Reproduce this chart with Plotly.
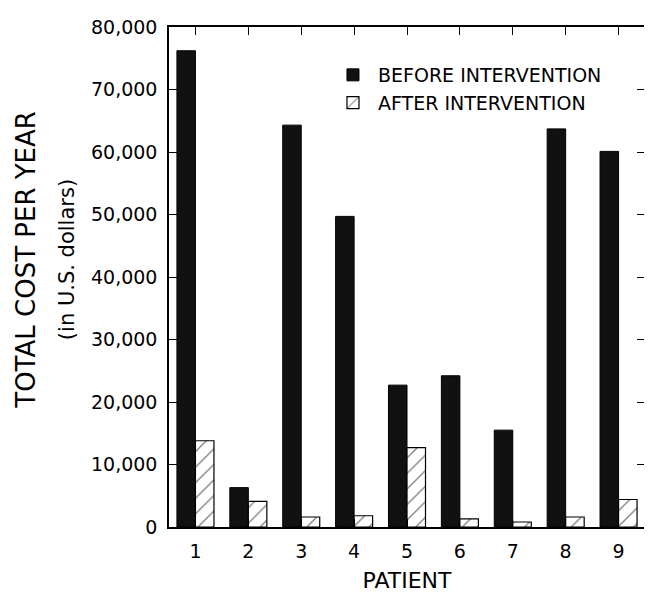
import plotly.graph_objects as go

patients = ["1", "2", "3", "4", "5", "6", "7", "8", "9"]
before_costs = [76200, 6300, 64300, 49700, 22700, 24200, 15500, 63700, 60100]
after_costs = [13800, 4100, 1600, 1800, 12700, 1300, 800, 1600, 4400]
y_ticks = [0, 10000, 20000, 30000, 40000, 50000, 60000, 70000, 80000]

FONT = "DejaVu Sans, Liberation Sans, sans-serif"

fig = go.Figure()
fig.add_trace(go.Bar(
    x=patients, y=before_costs, name="BEFORE INTERVENTION",
    marker=dict(color="#111111", line=dict(color="black", width=1)),
))
fig.add_trace(go.Bar(
    x=patients, y=after_costs, name="AFTER INTERVENTION",
    marker=dict(color="white", line=dict(color="black", width=1.2),
                pattern=dict(shape="/", fgcolor="black", bgcolor="white",
                             size=11, solidity=0.12)),
))

fig.update_layout(
    width=652, height=594,
    margin=dict(l=161, r=15, t=19, b=75, autoexpand=False),
    paper_bgcolor="white", plot_bgcolor="white",
    barmode="group", bargap=0.3, bargroupgap=0,
    font=dict(family=FONT, color="black", size=19),
    showlegend=True,
    legend=dict(x=0.334, y=0.942, xanchor="left", yanchor="top",
                bgcolor="rgba(0,0,0,0)", font=dict(size=19, family=FONT),
                tracegroupgap=0, itemwidth=40),
    xaxis=dict(
        type="category", showline=True, linecolor="black", linewidth=1.5,
        mirror="ticks", ticks="inside", ticklen=8, tickcolor="black",
        showgrid=False, automargin=False, ticklabelstandoff=6,
        title=dict(text="PATIENT", font=dict(size=22, family=FONT), standoff=12),
        tickfont=dict(size=19, family=FONT),
    ),
    yaxis=dict(
        range=[0, 80000], tickvals=y_ticks, tickformat=",",
        showline=True, linecolor="black", linewidth=1.5,
        mirror="ticks", ticks="inside", ticklen=8, tickcolor="black",
        showgrid=False, zeroline=False, automargin=False, ticklabelstandoff=6,
        tickfont=dict(size=19, family=FONT),
    ),
    annotations=[
        dict(text="TOTAL COST PER YEAR", xref="paper", yref="paper",
             x=-0.301, y=0.534, textangle=-90, showarrow=False,
             font=dict(size=26, family=FONT), xanchor="center", yanchor="middle"),
        dict(text="(in U.S. dollars)", xref="paper", yref="paper",
             x=-0.214, y=0.534, textangle=-90, showarrow=False,
             font=dict(size=21, family=FONT), xanchor="center", yanchor="middle"),
    ],
)

fig.write_html("out.html")
